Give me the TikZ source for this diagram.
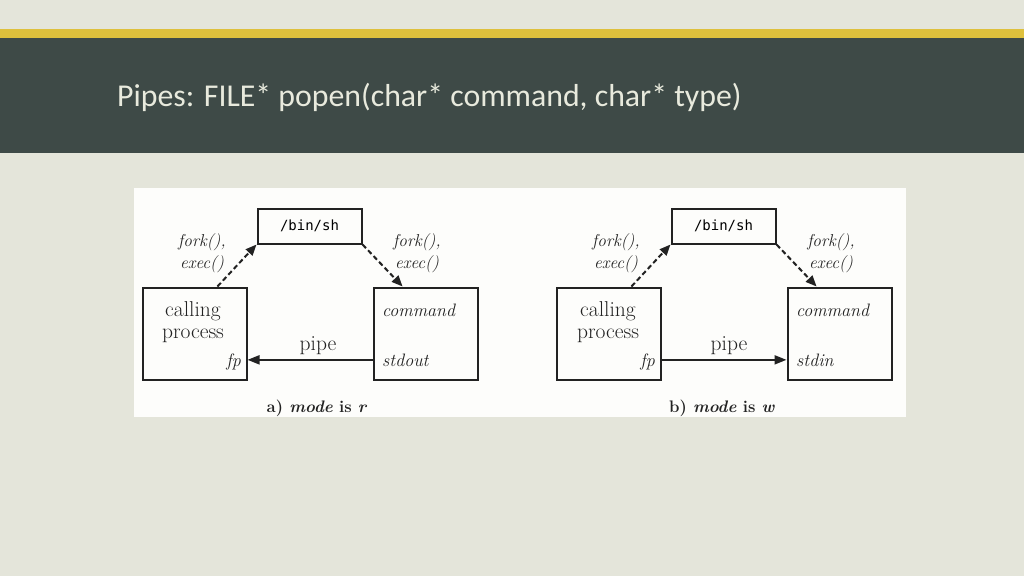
\documentclass[tikz,border=0pt]{standalone}
\usepackage{fontspec}
\newfontfamily\titlefont{Carlito}
\newfontfamily\shfont{DejaVu Sans Mono}
\usetikzlibrary{arrows.meta,positioning}
\definecolor{slidebg}{HTML}{E4E5DA}
\definecolor{bandyellow}{HTML}{DEC03C}
\definecolor{boardgreen}{HTML}{3E4A47}
\definecolor{titlegrey}{HTML}{E8EADD}
\definecolor{figwhite}{HTML}{FDFDFB}
\definecolor{ink}{HTML}{222222}

\begin{document}
\begin{tikzpicture}[x=1pt,y=-1pt,
  proc/.style={draw=ink,line width=2pt,minimum width=104pt,minimum height=92pt,inner sep=0pt},
  shbox/.style={draw=ink,line width=2pt,minimum width=104pt,minimum height=35pt,inner sep=0pt,
    font=\shfont\fontsize{14}{16}\selectfont},
  rmtext/.style={inner sep=0pt,text=ink,font=\fontsize{21.5}{22.5}\selectfont},
  ittext/.style={inner sep=0pt,text=ink,font=\fontsize{18}{21}\selectfont\itshape},
  forktext/.style={inner sep=0pt,text=ink,align=center,font=\fontsize{17.2}{21.5}\selectfont\itshape},
  captext/.style={inner sep=0pt,text=ink,font=\fontsize{16.7}{19}\selectfont\bfseries},
  forkarrow/.style={draw=ink,line width=2pt,dash pattern=on 5pt off 3pt,
    -{Triangle[length=11pt,width=9pt]}},
  pipearrow/.style={draw=ink,line width=2pt,-{Triangle[length=12pt,width=9pt]}}]
\useasboundingbox (0,0) rectangle (1024,576);
% slide background
\fill[slidebg] (0,0) rectangle (1024,576);
\fill[bandyellow] (0,29) rectangle (1024,38);
\fill[boardgreen] (0,38) rectangle (1024,153);
\node[anchor=base west,inner sep=0pt,text=titlegrey,
  font=\titlefont\fontsize{31.8}{36}\selectfont] (title) at (117,106)
  {Pipes: FILE* popen(char* command, char* type)};
\fill[figwhite] (134,188) rectangle (906,417);
% a) mode is r
\begin{scope}
\node[shbox] (sh) at (309.5,226) {/bin/sh};
\node[proc] (call) at (194.5,333.5) {};
\node[proc] (cmd) at (425.5,333.5) {};
\node[rmtext,align=center] (calltxt) at (193,322) {calling\\process};
\node[ittext,anchor=base east] (fp) at (241,366) {fp};
\node[ittext,anchor=base west] (cmdtxt) at (382,316) {command};
\node[ittext,anchor=base west] (stdout) at (382,366) {stdout};
\node[rmtext,anchor=base] (pipe) at (318,350) {pipe};
\node[forktext] (forkl) at (202,253) {fork(),\\exec()};
\node[forktext] (forkr) at (417,253) {fork(),\\exec()};
\draw[forkarrow] (call.64) -- (sh.south west);
\draw[forkarrow] (sh.south east) -- (cmd.116);
\draw[pipearrow] (cmd.west |- stdout.west) -- (call.east |- stdout.west);
\end{scope}
% b) mode is w
\begin{scope}[xshift=414pt]
\node[shbox] (sh) at (309.5,226) {/bin/sh};
\node[proc] (call) at (194.5,333.5) {};
\node[proc] (cmd) at (425.5,333.5) {};
\node[rmtext,align=center] (calltxt) at (194,322) {calling\\process};
\node[ittext,anchor=base east] (fp) at (241,366) {fp};
\node[ittext,anchor=base west] (cmdtxt) at (382,316) {command};
\node[ittext,anchor=base west] (stdin) at (382,366) {stdin};
\node[rmtext,anchor=base] (pipe) at (315,350) {pipe};
\node[forktext] (forkl) at (202,253) {fork(),\\exec()};
\node[forktext] (forkr) at (417,253) {fork(),\\exec()};
\draw[forkarrow] (call.64) -- (sh.south west);
\draw[forkarrow] (sh.south east) -- (cmd.116);
\draw[pipearrow] (call.east |- stdin.west) -- (cmd.west |- stdin.west);
\end{scope}
\node[captext,anchor=base] (capa) at (317,412) {a) \textit{mode} is \textit{r}};
\node[captext,anchor=base] (capb) at (722,412) {b) \textit{mode} is \textit{w}};
\end{tikzpicture}
\end{document}
